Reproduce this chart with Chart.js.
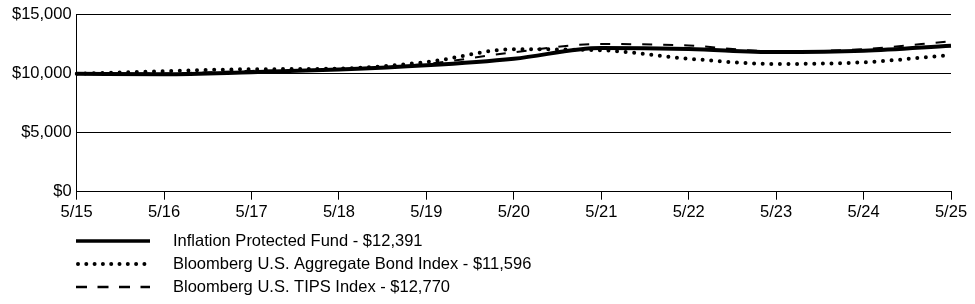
<!DOCTYPE html>
<html>
<head>
<meta charset="utf-8">
<script src="https://cdn.jsdelivr.net/npm/chart.js@4/dist/chart.umd.min.js"></script>
<style>
  html, body { margin: 0; padding: 0; background: #fff; }
  #wrap { width: 975px; height: 304px; position: relative; }
</style>
</head>
<body>
<div id="wrap"><canvas id="growth"></canvas></div>
<script>
// values
const years = ['5/15', '5/16', '5/17', '5/18', '5/19', '5/20', '5/21', '5/22', '5/23', '5/24', '5/25']
const fund = [10000, 9970, 10140, 10360, 10720, 11280, 12200, 12110, 11850, 11960, 12391]
const aggBond = [10000, 10230, 10390, 10440, 11000, 12080, 12000, 11280, 10840, 10980, 11596]
const tips = [10000, 10030, 10250, 10400, 10840, 11830, 12530, 12400, 11900, 12100, 12770]
const names = [
  'Inflation Protected Fund - $12,391',
  'Bloomberg U.S. Aggregate Bond Index - $11,596',
  'Bloomberg U.S. TIPS Index - $12,770'
]

const FONT = 'Arial, "Liberation Sans", sans-serif'
Chart.defaults.font.family = FONT
Chart.defaults.color = '#000'

// legend stacked under the axis, one row per series
const stackedLegend = {
  id: 'stackedLegend',
  afterDraw(chart) {
    const ctx = chart.ctx
    const rows = [241, 264, 287]
    chart.data.datasets.forEach((ds, i) => {
      const y = rows[i]
      ctx.save()
      ctx.strokeStyle = '#000'
      ctx.lineWidth = ds.legendWidth || ds.borderWidth
      ctx.lineCap = ds.borderCapStyle || 'butt'
      ctx.setLineDash(ds.legendDash || [])
      ctx.beginPath()
      ctx.moveTo(ds.legendStart || 76, y)
      ctx.lineTo(150, y)
      ctx.stroke()
      ctx.restore()
      ctx.save()
      ctx.fillStyle = '#000'
      ctx.font = '16.5px ' + FONT
      ctx.textBaseline = 'middle'
      ctx.fillText(ds.label, 173, y)
      ctx.restore()
    })
  }
}

new Chart(document.getElementById('growth'), {
  type: 'line',
  data: {
    labels: years,
    datasets: [{
      label: names[0],
      data: fund,
      borderColor: '#000',
      borderWidth: 4,
      legendWidth: 3.5,
      pointRadius: 0,
      cubicInterpolationMode: 'monotone'
    }, {
      label: names[1],
      data: aggBond,
      borderColor: '#000',
      borderWidth: 4,
      borderCapStyle: 'round',
      borderDash: [0, 8.6],
      legendDash: [0, 8.3],
      legendStart: 78,
      pointRadius: 0,
      cubicInterpolationMode: 'monotone'
    }, {
      label: names[2],
      data: tips,
      borderColor: '#000',
      borderWidth: 2,
      legendWidth: 2.5,
      borderDash: [10, 11],
      legendDash: [11, 10.5],
      pointRadius: 0,
      cubicInterpolationMode: 'monotone'
    }]
  },
  options: {
    responsive: true,
    maintainAspectRatio: false,
    animation: false,
    layout: { padding: { left: 7, right: 24, top: 1.5, bottom: 78.5 } },
    plugins: {
      legend: { display: false },
      tooltip: { enabled: false }
    },
    scales: {
      x: {
        offset: false,
        grid: { drawOnChartArea: false, drawTicks: true, tickLength: 8, color: '#000', lineWidth: 1 },
        border: { color: '#000', width: 1 },
        ticks: { font: { size: 16.5 }, padding: 3, maxRotation: 0, autoSkip: false }
      },
      y: {
        min: 0,
        max: 15000,
        grid: { color: '#000', lineWidth: 1, drawTicks: false },
        border: { color: '#000', width: 1 },
        ticks: {
          stepSize: 5000,
          padding: 5,
          font: { size: 16.5 },
          callback: v => '$' + v.toLocaleString('en-US')
        }
      }
    }
  },
  plugins: [stackedLegend]
})
</script>
</body>
</html>
